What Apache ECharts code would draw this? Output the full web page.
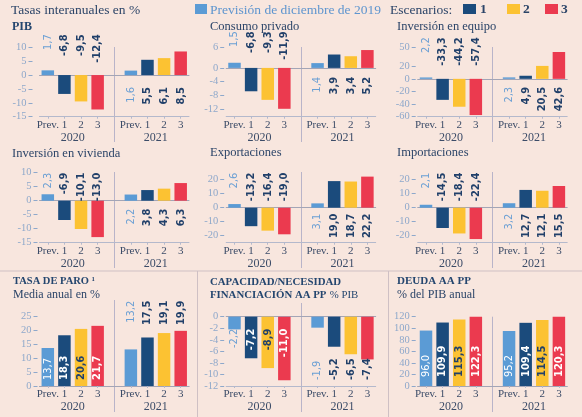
<!DOCTYPE html>
<html>
<head>
<meta charset="utf-8">
<script src="https://cdn.jsdelivr.net/npm/echarts@6/dist/echarts.min.js"></script>
<style>
  html, body { margin: 0; padding: 0; background: #f8e6de; }
  #chart { width: 582px; height: 417px; }
</style>
</head>
<body>
<div id="chart"></div>
<script>
// categorías: 4 barras por año, con un hueco en medio para separar 2020 y 2021
const categories = ['Prev.', '1', '2', '3', '', 'Prev.', '1', '2', '3'];
const years = ['2020', '2021'];

// valores: Prev., escenario 1, 2, 3 (2020) y luego lo mismo para 2021
const pib = [1.7, -6.8, -9.5, -12.4, 1.6, 5.5, 6.1, 8.5];
const consumo = [1.5, -6.8, -9.3, -11.9, 1.4, 3.9, 3.4, 5.2];
const equipo = [2.2, -33.3, -44.2, -57.4, 2.3, 4.9, 20.5, 42.6];
const vivienda = [2.3, -6.9, -10.1, -13.0, 2.2, 3.8, 4.3, 6.3];
const exportaciones = [2.6, -13.2, -16.4, -19.0, 3.1, 19.0, 18.7, 22.2];
const importaciones = [2.1, -14.5, -18.4, -22.4, 3.2, 12.7, 12.1, 15.5];
const paro = [13.7, 18.3, 20.6, 21.7, 13.2, 17.5, 19.1, 19.9];
const capacidad = [-2.2, -7.2, -8.9, -11.0, -1.9, -5.2, -6.5, -7.4];
const deuda = [96.0, 109.9, 115.3, 122.3, 95.2, 109.4, 114.5, 120.3];

// marcas del eje Y de cada panel
const pibTicks = [-15, -10, -5, 0, 5, 10];
const consumoTicks = [-12, -8, -4, 0, 6];
const equipoTicks = [-60, -40, -20, 0, 20, 50];
const viviendaTicks = [-15, -10, -5, 0, 5, 10];
const comercioTicks = [-20, -10, 0, 10, 20];
const paroTicks = [0, 5, 10, 15, 20, 25];
const capacidadTicks = [-12, -10, -8, -6, -4, -2, 0];
const deudaTicks = [0, 20, 40, 60, 80, 100, 120];

const SERIF = '"Liberation Serif", "DejaVu Serif", serif';
const SANS = '"DejaVu Sans Condensed", "Liberation Sans Narrow", "DejaVu Sans", sans-serif';
const colors = ['#5b9bd5', '#1b4b7c', '#fcc232', '#eb3a4f'];
const navy = '#21406a';
const titleInk = '#2b4468';
const lightBlue = '#6a9fd4';
const tickBlue = '#8ea8cb';
const axisGray = '#b4b9cc';
const zeroGray = '#a3a5b6';
const dividerInk = '#b9b4c9';

const cols = [39.5, 226.2, 417.7];
const colWidth = 149.5;
const rows = [
  { top: 47.3, bottom: 116.7 },
  { top: 172.7, bottom: 242.7 },
  { top: 316.7, bottom: 386 }
];

// dir 'down': el texto termina en el ancla y baja; 'up': empieza en el ancla y sube
const panels = [
  { values: pib, ticks: pibTicks, min: -15, max: 10, col: 0, row: 0, yOffset: 7, divTop: 47, divBottom: 142,
    labels: [{ anchor: 'max', dy: -13, dir: 'down' }, { anchor: 'zero', dy: 12, dir: 'down' }] },
  { values: consumo, ticks: consumoTicks, min: -14.2, max: 6, col: 1, row: 0, yOffset: 2, divTop: 47, divBottom: 142,
    labels: [{ anchor: 'max', dy: -16, dir: 'down' }, { anchor: 'zero', dy: 9, dir: 'down' }] },
  { values: equipo, ticks: equipoTicks, min: -60, max: 50, col: 2, row: 0, yOffset: 2, divTop: 47, divBottom: 142,
    labels: [{ anchor: 'max', dy: -10, dir: 'down' }, { anchor: 'zero', dy: 8, dir: 'down' }] },
  { values: vivienda, ticks: viviendaTicks, min: -15, max: 10, col: 0, row: 1, yOffset: 2, divTop: 172, divBottom: 268,
    labels: [{ anchor: 'max', dy: 0, dir: 'down' }, { anchor: 'zero', dy: 8, dir: 'down' }] },
  { values: exportaciones, ticks: comercioTicks, min: -25, max: 25, col: 1, row: 1, yOffset: 2, divTop: 172, divBottom: 268,
    labels: [{ anchor: 'max', dy: 0, dir: 'down' }, { anchor: 'zero', dy: 6, dir: 'down' }] },
  { values: importaciones, ticks: comercioTicks, min: -25, max: 25, col: 2, row: 1, yOffset: 2, divTop: 172, divBottom: 268,
    labels: [{ anchor: 'max', dy: 0, dir: 'down' }, { anchor: 'zero', dy: 6, dir: 'down' }] },
  { values: paro, ticks: paroTicks, min: 0, max: 25, col: 0, row: 2, yOffset: 2, divTop: 300, divBottom: 412,
    labels: [{ anchor: 'zero', dy: -6, dir: 'up', inside: true }, { anchor: 'max', dy: -16, dir: 'down' }] },
  { values: capacidad, ticks: capacidadTicks, min: -12, max: 0, col: 1, row: 2, yOffset: 2, divTop: 303, divBottom: 412,
    prevOutside: true,
    labels: [{ anchor: 'zero', dy: 12, dir: 'down', inside: true }, { anchor: 'min', dy: -6, dir: 'up' }] },
  { values: deuda, ticks: deudaTicks, min: 0, max: 120, col: 2, row: 2, yOffset: 2, divTop: 316.7, divBottom: 412,
    labels: [{ anchor: 'zero', dy: -9, dir: 'up', inside: true }, { anchor: 'zero', dy: -9, dir: 'up', inside: true }] }
];

function fmt(v) {
  return v.toFixed(1).replace('.', ',');
}

function labelInk(p, mode, j) {
  const inside = mode.inside && !(j === 0 && p.prevOutside);
  if (inside) return j === 2 ? navy : '#ffffff';
  return j === 0 ? lightBlue : navy;
}

const grids = [];
const xAxes = [];
const yAxes = [];
const series = [];

panels.forEach((p, i) => {
  const r = rows[p.row];
  grids.push({
    left: cols[p.col], top: r.top, width: colWidth, height: r.bottom - r.top,
    containLabel: false, outerBoundsMode: 'none'
  });
  xAxes.push({
    type: 'category', gridIndex: i, data: categories, position: 'bottom',
    axisLine: { onZero: false, lineStyle: { color: axisGray, width: 1 } },
    axisTick: {
      show: true, length: 2, alignWithLabel: true,
      interval: (idx) => categories[idx] !== '',
      lineStyle: { color: axisGray }
    },
    axisLabel: { interval: 0, color: '#3c4c68', fontFamily: SERIF, fontSize: 11, margin: 3 }
  });
  // línea del cero
  xAxes.push({
    type: 'category', gridIndex: i, data: categories, position: 'top',
    axisLine: { onZero: true, lineStyle: { color: zeroGray, width: 1 } },
    axisTick: { show: false }, axisLabel: { show: false }
  });
  yAxes.push({
    type: 'value', gridIndex: i, min: p.min, max: p.max, offset: p.yOffset,
    axisLine: { show: false },
    splitLine: { show: false },
    axisTick: { show: true, length: 4, customValues: p.ticks, lineStyle: { color: tickBlue } },
    axisLabel: { customValues: p.ticks, color: tickBlue, fontFamily: SERIF, fontSize: 10.5, margin: 6 }
  });
  series.push({
    type: 'bar', xAxisIndex: i * 2, yAxisIndex: i, barWidth: 12.5, silent: true,
    data: categories.map((c, k) => {
      if (k === 4) return '-';
      const idx = k < 4 ? k : k - 1;
      return { value: p.values[idx], itemStyle: { color: colors[idx % 4] } };
    })
  });
  series.push({
    type: 'custom', xAxisIndex: i * 2, yAxisIndex: i, silent: true, z: 5,
    data: p.values.map((v, idx) => [idx < 4 ? idx : idx + 1, v, idx]),
    renderItem(params, api) {
      const idx = api.value(2);
      const j = idx % 4;
      const mode = p.labels[idx < 4 ? 0 : 1];
      const base = mode.anchor === 'max' ? p.max : (mode.anchor === 'min' ? p.min : 0);
      const pt = api.coord([api.value(0), base]);
      return {
        type: 'text',
        x: pt[0],
        y: pt[1] + mode.dy,
        rotation: Math.PI / 2,
        style: {
          text: fmt(p.values[idx]),
          fill: labelInk(p, mode, j),
          font: (j === 0 ? 'normal ' : 'bold ') + '11px ' + SANS,
          align: mode.dir === 'down' ? 'right' : 'left',
          textAlign: mode.dir === 'down' ? 'right' : 'left',
          verticalAlign: 'middle',
          textVerticalAlign: 'middle'
        }
      };
    }
  });
});

function txt(x, y, text, font, fill, extra) {
  return Object.assign({
    type: 'text', x: x, y: y, silent: true,
    style: { text: text, font: font, fill: fill, textVerticalAlign: 'middle', verticalAlign: 'middle' }
  }, extra || {});
}

const staticGraphics = [
  txt(11, 10, 'Tasas interanuales en %', '13.5px ' + SERIF, titleInk),
  { type: 'rect', shape: { x: 195, y: 4, width: 12, height: 10 }, style: { fill: colors[0] }, silent: true },
  txt(210, 10, 'Previsión de diciembre de 2019', '13.5px ' + SERIF, '#5e95cf'),
  txt(390, 10, 'Escenarios:', '13.5px ' + SERIF, titleInk),
  { type: 'rect', shape: { x: 463, y: 4, width: 13, height: 10 }, style: { fill: colors[1] }, silent: true },
  txt(480, 10, '1', 'bold 13.5px ' + SERIF, titleInk),
  { type: 'rect', shape: { x: 507, y: 4, width: 13, height: 10 }, style: { fill: colors[2] }, silent: true },
  txt(523, 10, '2', 'bold 13.5px ' + SERIF, titleInk),
  { type: 'rect', shape: { x: 545, y: 4, width: 13, height: 10 }, style: { fill: colors[3] }, silent: true },
  txt(561, 10, '3', 'bold 13.5px ' + SERIF, titleInk),

  txt(12, 27, 'PIB', 'bold 12px ' + SERIF, '#24466f'),
  txt(210, 27, 'Consumo privado', '12.5px ' + SERIF, titleInk),
  txt(397, 27, 'Inversión en equipo', '12.5px ' + SERIF, titleInk),
  txt(12, 154, 'Inversión en vivienda', '12.5px ' + SERIF, titleInk),
  txt(210, 153, 'Exportaciones', '12.5px ' + SERIF, titleInk),
  txt(397, 153, 'Importaciones', '12.5px ' + SERIF, titleInk),

  txt(13, 281, 'TASA DE PARO ¹', 'bold 10.5px ' + SERIF, '#24466f'),
  txt(13, 295, 'Media anual en %', '12px ' + SERIF, titleInk),
  txt(210, 282, 'CAPACIDAD/NECESIDAD', 'bold 10.8px ' + SERIF, '#24466f'),
  {
    type: 'text', x: 210, y: 295, silent: true,
    style: {
      text: '{b|FINANCIACIÓN AA PP} {n|% PIB}',
      textVerticalAlign: 'middle', verticalAlign: 'middle',
      rich: {
        b: { font: 'bold 10.8px ' + SERIF, fill: '#24466f', color: '#24466f' },
        n: { font: '10.8px ' + SERIF, fill: '#24466f', color: '#24466f' }
      }
    }
  },
  txt(397, 281, 'DEUDA AA PP', 'bold 11px ' + SERIF, '#24466f'),
  txt(397, 295, '% del PIB anual', '12px ' + SERIF, titleInk),

  // separadores de la fila inferior
  { type: 'line', shape: { x1: 0, y1: 271, x2: 582, y2: 271 }, style: { stroke: '#cfc0c4', lineWidth: 1 }, silent: true },
  { type: 'line', shape: { x1: 197.5, y1: 271, x2: 197.5, y2: 417 }, style: { stroke: '#cfc0c4', lineWidth: 1 }, silent: true },
  { type: 'line', shape: { x1: 388.5, y1: 271, x2: 388.5, y2: 417 }, style: { stroke: '#cfc0c4', lineWidth: 1 }, silent: true }
];

const chart = echarts.init(document.getElementById('chart'), null, { renderer: 'canvas' });
chart.setOption({
  backgroundColor: '#f8e6de',
  animation: false,
  grid: grids,
  xAxis: xAxes,
  yAxis: yAxes,
  series: series,
  graphic: staticGraphics
});

// divisores entre años y etiquetas de año, situados con la escala de cada panel
const extra = [];
panels.forEach((p, i) => {
  const r = rows[p.row];
  const xDiv = chart.convertToPixel({ gridIndex: i }, [4, 0])[0];
  extra.push({
    type: 'line', silent: true,
    shape: { x1: Math.round(xDiv) + 0.5, y1: p.divTop, x2: Math.round(xDiv) + 0.5, y2: p.divBottom },
    style: { stroke: dividerInk, lineWidth: 1 }
  });
  years.forEach((yr, k) => {
    const a = chart.convertToPixel({ gridIndex: i }, [k * 5 + 1, 0])[0];
    const b = chart.convertToPixel({ gridIndex: i }, [k * 5 + 2, 0])[0];
    extra.push({
      type: 'text', silent: true, x: (a + b) / 2, y: r.bottom + 21,
      style: {
        text: yr, font: '12px ' + SERIF, fill: '#3c4c68',
        textAlign: 'center', align: 'center', textVerticalAlign: 'middle', verticalAlign: 'middle'
      }
    });
  });
});
chart.setOption({ graphic: staticGraphics.concat(extra) });
</script>
</body>
</html>
